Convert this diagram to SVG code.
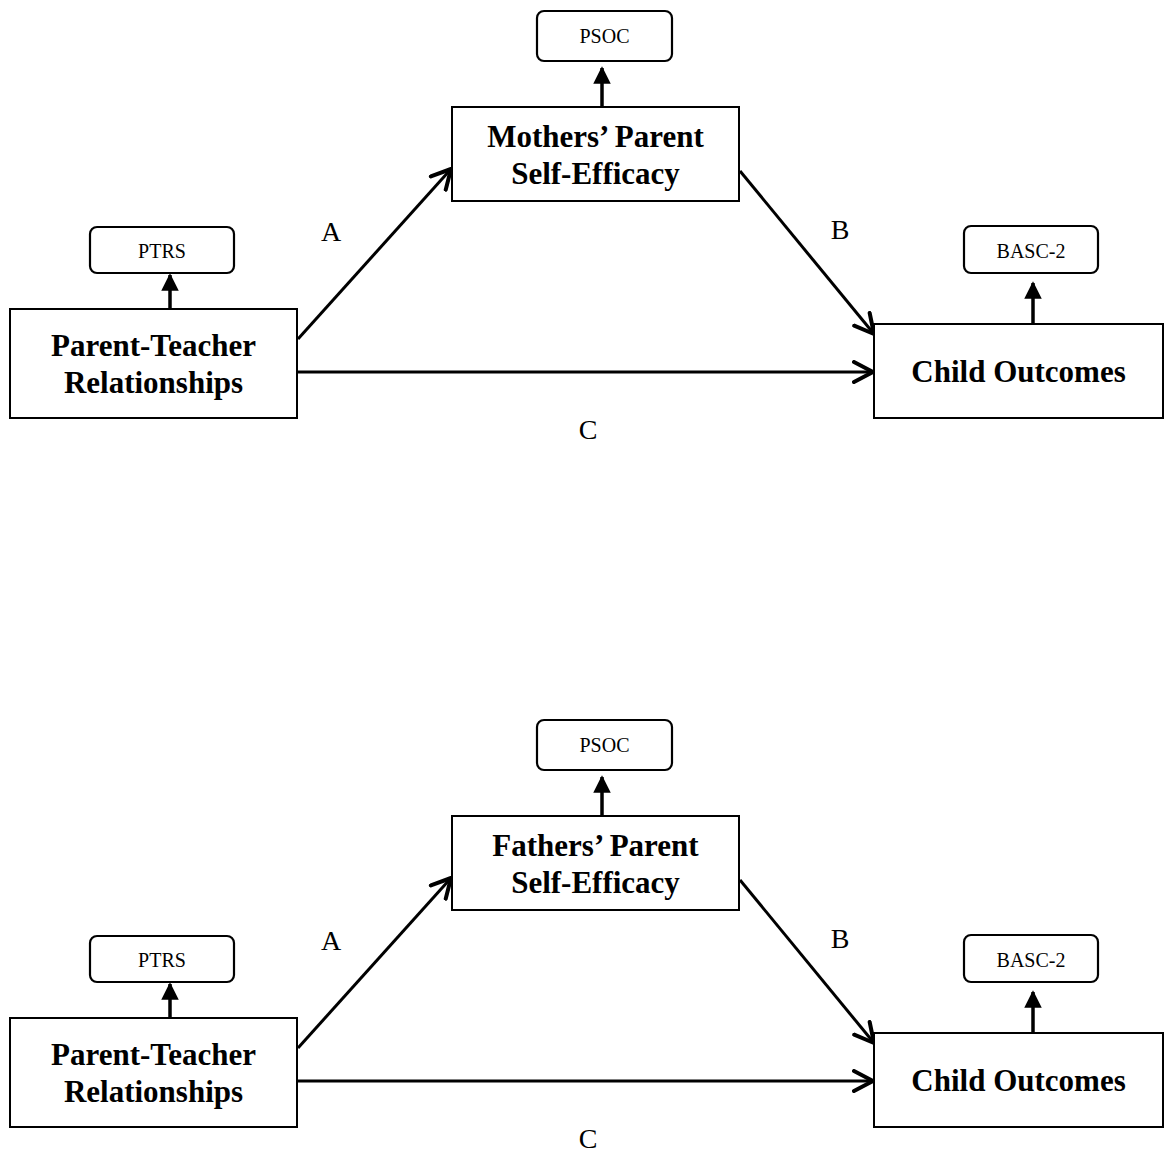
<svg xmlns="http://www.w3.org/2000/svg" width="1165" height="1155" viewBox="0 0 1165 1155">
<style>
.box{fill:#fff;stroke:#000;stroke-width:2}
.ind{fill:#fff;stroke:#000;stroke-width:2.2}
.big{font-family:"Liberation Serif","Times New Roman",serif;font-weight:bold;font-size:31px;text-anchor:middle;fill:#000}
.small{font-family:"Liberation Serif","Times New Roman",serif;font-size:20px;text-anchor:middle;fill:#000}
.lab{font-family:"Liberation Serif","Times New Roman",serif;font-size:28px;text-anchor:middle;fill:#000}
.path{stroke:#000;stroke-width:3;fill:none;marker-end:url(#chev)}
.up{stroke:#000;stroke-width:3.5;fill:none;marker-end:url(#tri)}
</style>
<defs>
<marker id="chev" viewBox="0 0 24 24" refX="21" refY="12" markerWidth="8" markerHeight="8" markerUnits="strokeWidth" orient="auto">
<path d="M2,2 L21,12 L2,22" fill="none" stroke="#000" stroke-width="4" stroke-linecap="round" stroke-linejoin="round"/>
</marker>
<marker id="tri" viewBox="0 0 10 10" refX="9" refY="5" markerWidth="5" markerHeight="5" markerUnits="strokeWidth" orient="auto">
<path d="M0,0 L10,5 L0,10 Z" fill="#000"/>
</marker>
</defs>

<g id="panel-mothers">
<g id="connectors-top">
<line class="up" x1="170" y1="309" x2="170" y2="275"/>
<line class="up" x1="602" y1="107" x2="602" y2="68"/>
<line class="up" x1="1033" y1="324" x2="1033" y2="283"/>
<line class="path" x1="298" y1="339" x2="451" y2="169"/>
<line class="path" x1="740" y1="171" x2="874" y2="334"/>
<line class="path" x1="297" y1="372" x2="873" y2="372"/>
<text class="lab" x="331" y="241">A</text>
<text class="lab" x="840" y="239">B</text>
<text class="lab" x="588" y="439">C</text>
</g>
<g id="ptrs-top"><rect class="ind" x="90" y="227" width="144" height="46" rx="7"/><text class="small" x="162" y="258">PTRS</text></g>
<g id="ptr-top"><rect class="box" x="10" y="309" width="287" height="109"/><text class="big" x="153.5" y="356">Parent-Teacher</text><text class="big" x="153.5" y="393">Relationships</text></g>
<g id="psoc-top"><rect class="ind" x="537" y="11" width="135" height="50" rx="7"/><text class="small" x="604.5" y="43">PSOC</text></g>
<g id="mpse"><rect class="box" x="452" y="107" width="287" height="94"/><text class="big" x="595.5" y="147">Mothers’ Parent</text><text class="big" x="595.5" y="184">Self-Efficacy</text></g>
<g id="basc-top"><rect class="ind" x="964" y="226" width="134" height="47" rx="7"/><text class="small" x="1031" y="258">BASC-2</text></g>
<g id="child-top"><rect class="box" x="874" y="324" width="289" height="94"/><text class="big" x="1018.5" y="382">Child Outcomes</text></g>
</g>

<g id="panel-fathers" transform="translate(0,709)">
<g id="connectors-bottom">
<line class="up" x1="170" y1="309" x2="170" y2="275"/>
<line class="up" x1="602" y1="107" x2="602" y2="68"/>
<line class="up" x1="1033" y1="324" x2="1033" y2="283"/>
<line class="path" x1="298" y1="339" x2="451" y2="169"/>
<line class="path" x1="740" y1="171" x2="874" y2="334"/>
<line class="path" x1="297" y1="372" x2="873" y2="372"/>
<text class="lab" x="331" y="241">A</text>
<text class="lab" x="840" y="239">B</text>
<text class="lab" x="588" y="439">C</text>
</g>
<g id="ptrs-bottom"><rect class="ind" x="90" y="227" width="144" height="46" rx="7"/><text class="small" x="162" y="258">PTRS</text></g>
<g id="ptr-bottom"><rect class="box" x="10" y="309" width="287" height="109"/><text class="big" x="153.5" y="356">Parent-Teacher</text><text class="big" x="153.5" y="393">Relationships</text></g>
<g id="psoc-bottom"><rect class="ind" x="537" y="11" width="135" height="50" rx="7"/><text class="small" x="604.5" y="43">PSOC</text></g>
<g id="fpse"><rect class="box" x="452" y="107" width="287" height="94"/><text class="big" x="595.5" y="147">Fathers’ Parent</text><text class="big" x="595.5" y="184">Self-Efficacy</text></g>
<g id="basc-bottom"><rect class="ind" x="964" y="226" width="134" height="47" rx="7"/><text class="small" x="1031" y="258">BASC-2</text></g>
<g id="child-bottom"><rect class="box" x="874" y="324" width="289" height="94"/><text class="big" x="1018.5" y="382">Child Outcomes</text></g>
</g>
</svg>
